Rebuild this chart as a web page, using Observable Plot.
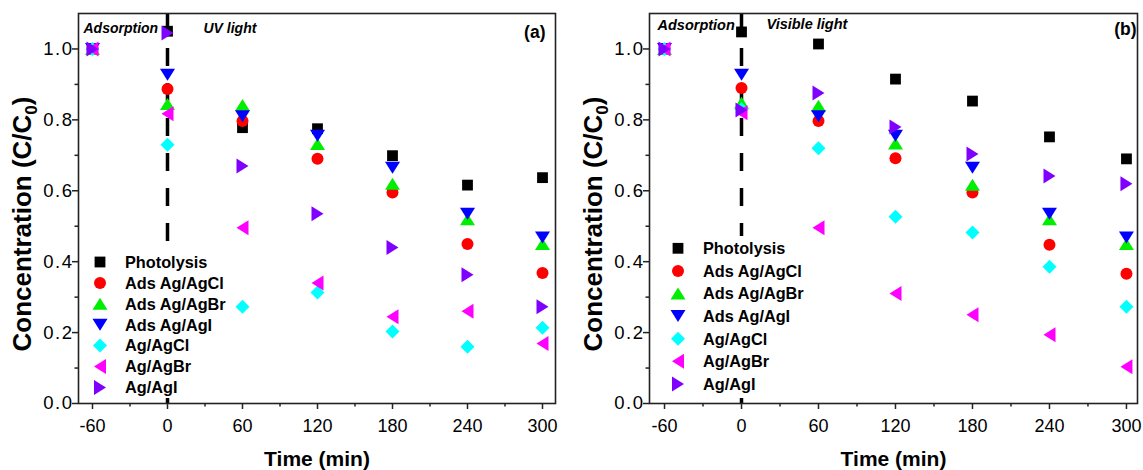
<!DOCTYPE html>
<html>
<head>
<meta charset="utf-8">
<script src="https://cdn.jsdelivr.net/npm/d3@7"></script>
<script src="https://cdn.jsdelivr.net/npm/@observablehq/plot@0.6"></script>
<style>
  body { margin: 0; background: #fff; }
  #wrap { display: flex; width: 1143px; height: 470px; }
  #wrap g[aria-label="y-axis tick label"] text { letter-spacing: 1.5px; }
</style>
</head>
<body>
<div id="wrap"></div>
<script>
// ---------------- data ----------------
const times = [-60, 0, 60, 120, 180, 240, 300];
const seriesNames = ["Photolysis", "Ads Ag/AgCl", "Ads Ag/AgBr", "Ads Ag/AgI", "Ag/AgCl", "Ag/AgBr", "Ag/AgI"];

// (a) UV light
const photolysisUV = [1.0, 1.05, 0.778, 0.775, 0.699, 0.616, 0.637];
const adsAgClUV   = [1.0, 0.887, 0.797, 0.69, 0.595, 0.45, 0.368];
const adsAgBrUV   = [1.0, 0.845, 0.842, 0.732, 0.62, 0.52, 0.45];
const adsAgIUV    = [1.0, 0.927, 0.81, 0.755, 0.665, 0.535, 0.468];
const agAgClUV    = [1.0, 0.73, 0.273, 0.313, 0.203, 0.16, 0.214];
const agAgBrUV    = [1.0, 0.817, 0.496, 0.34, 0.245, 0.26, 0.169];
const agAgIUV     = [1.0, 1.045, 0.67, 0.535, 0.44, 0.363, 0.273];

// (b) Visible light
const photolysisVis = [1.0, 1.048, 1.014, 0.915, 0.853, 0.752, 0.69];
const adsAgClVis    = [1.0, 0.89, 0.797, 0.692, 0.595, 0.448, 0.366];
const adsAgBrVis    = [1.0, 0.848, 0.84, 0.733, 0.617, 0.52, 0.45];
const adsAgIVis     = [1.0, 0.927, 0.81, 0.755, 0.665, 0.535, 0.468];
const agAgClVis     = [1.0, 0.83, 0.72, 0.527, 0.482, 0.386, 0.273];
const agAgBrVis     = [1.0, 0.82, 0.496, 0.31, 0.25, 0.194, 0.104];
const agAgIVis      = [1.0, 0.828, 0.876, 0.78, 0.704, 0.642, 0.62];

const yTicks = [0, 0.2, 0.4, 0.6, 0.8, 1.0];
const yMinorTicks = [0.1, 0.3, 0.5, 0.7, 0.9];
const xTicks = [-60, 0, 60, 120, 180, 240, 300];
const xMinorTicks = [-30, 30, 90, 150, 210, 270];
const lightOnTime = 0;
const phaseLabel = "Adsorption";
const lightLabels = ["UV light", "Visible light"];
const panelLabels = ["(a)", "(b)"];
const xTitle = "Time (min)";

// ---------------- styles ----------------
const seriesColors = ["#000000", "#ff0000", "#00ee00", "#0000ff", "#00ffff", "#ff00ff", "#8000ff"];

function polySymbol(pts) {
  return {
    draw(ctx, size) {
      const s = Math.sqrt(size / (Math.PI * 36));
      ctx.moveTo(pts[0][0] * s, pts[0][1] * s);
      for (let i = 1; i < pts.length; i++) ctx.lineTo(pts[i][0] * s, pts[i][1] * s);
      ctx.closePath();
    }
  };
}
const symCircle = {
  draw(ctx, size) {
    const r = Math.sqrt(size / Math.PI);
    ctx.moveTo(r, 0);
    ctx.arc(0, 0, r, 0, 2 * Math.PI);
  }
};
const seriesSymbols = [
  polySymbol([[-5.4, -5.4], [5.4, -5.4], [5.4, 5.4], [-5.4, 5.4]]),
  symCircle,
  polySymbol([[0, -6], [7.5, 6], [-7.5, 6]]),
  polySymbol([[0, 6], [7.5, -6], [-7.5, -6]]),
  polySymbol([[0, -7], [7, 0], [0, 7], [-7, 0]]),
  polySymbol([[-6, 0], [6, -7.5], [6, 7.5]]),
  polySymbol([[6, 0], [-6, -7.5], [-6, 7.5]])
];

const FONT = "'Liberation Sans', Arial, Helvetica, sans-serif";

function panel(cfg) {
  const dots = cfg.series.map((vals, i) =>
    Plot.dot(times.map((t, j) => ({t, c: vals[j]})), {
      x: "t", y: "c", r: 6, symbol: seriesSymbols[i], fill: seriesColors[i], stroke: "none"
    })
  );
  const svg = Plot.plot({
    width: cfg.width, height: 470,
    marginLeft: cfg.ml, marginRight: cfg.mr, marginTop: 13, marginBottom: 67,
    style: {fontFamily: FONT, color: "#000", background: "#fff", overflow: "visible"},
    x: {domain: cfg.xDomain},
    y: {domain: [0, 1.1]},
    marks: [
      Plot.axisY({ticks: yMinorTicks, tickSize: 3.5, fill: "none", label: null, strokeWidth: 1.5, stroke: "#222"}),
      Plot.axisY({ticks: yTicks, tickSize: 6, tickPadding: -1, tickFormat: d3.format(".1f"), fontSize: 18.5, label: null, strokeWidth: 1.5, stroke: "#222"}),
      Plot.axisX({ticks: xMinorTicks, tickSize: 3.5, fill: "none", label: null, strokeWidth: 1.5, stroke: "#222"}),
      Plot.axisX({ticks: xTicks, tickSize: 6, tickPadding: 9.5, tickFormat: d => String(d), fontSize: 18, label: null, strokeWidth: 1.5, stroke: "#222"}),
      Plot.ruleX([lightOnTime], {stroke: "#000", strokeWidth: 3.5, strokeDasharray: "18,17"}),
      ...dots,
      Plot.frame({stroke: "#222", strokeWidth: 1.6}),
      Plot.text([phaseLabel], {text: d => d, frameAnchor: "top-left", dx: cfg.adsDx, dy: cfg.adsDy, lineAnchor: "middle", textAnchor: "start",
        fontSize: cfg.noteSize, fontWeight: "bold", fontStyle: "italic"}),
      Plot.text([{t: lightOnTime, label: cfg.lightLabel}], {x: "t", text: "label", frameAnchor: "top", dx: cfg.lightDx, dy: cfg.lightDy,
        lineAnchor: "middle", textAnchor: "start", fontSize: cfg.noteSize, fontWeight: "bold", fontStyle: "italic"}),
      Plot.text([cfg.panelLabel], {text: d => d, frameAnchor: "top-right", dx: cfg.labDx, dy: cfg.labDy, lineAnchor: "middle", textAnchor: "end",
        fontSize: 17.5, fontWeight: "bold"}),
      Plot.text([xTitle], {text: d => d, frameAnchor: "bottom", dy: 56, lineAnchor: "middle", fontSize: 21, fontWeight: "bold"})
    ]
  });

  const s = d3.select(svg);
  // y-axis title with subscript
  const yt = s.append("text")
    .attr("transform", `translate(${cfg.yTitleX},224) rotate(-90)`)
    .attr("text-anchor", "middle")
    .attr("font-size", 26).attr("font-weight", "bold").attr("font-family", FONT).attr("fill", "#000");
  yt.append("tspan").text("Concentration (C/C");
  yt.append("tspan").attr("font-size", 17).attr("dy", 6).text("0");
  yt.append("tspan").attr("dy", -6).text(")");

  // legend
  const lg = s.append("g").attr("text-anchor", "start");
  lg.append("rect").attr("x", cfg.leg.x).attr("y", cfg.leg.y).attr("width", cfg.leg.w).attr("height", cfg.leg.h).attr("fill", "#fff");
  seriesNames.forEach((name, i) => {
    const y = cfg.leg.y0 + i * cfg.leg.step;
    const p = d3.path();
    seriesSymbols[i].draw(p, Math.PI * 36);
    lg.append("path").attr("d", p.toString()).attr("transform", `translate(${cfg.leg.symX},${y})`).attr("fill", seriesColors[i]);
    lg.append("text").attr("x", cfg.leg.textX).attr("y", y).attr("dy", "0.36em").attr("text-anchor", "start")
      .attr("font-size", 16.3).attr("font-weight", "bold").attr("font-family", FONT).attr("fill", "#000").text(name);
  });
  return svg;
}

const wrap = document.getElementById("wrap");
wrap.append(panel({
  width: 570, ml: 78, mr: 15, xDomain: [-71.2, 310.4],
  series: [photolysisUV, adsAgClUV, adsAgBrUV, adsAgIUV, agAgClUV, agAgBrUV, agAgIUV],
  lightLabel: lightLabels[0], panelLabel: panelLabels[0],
  adsDx: 5, adsDy: 15, lightDx: 36, lightDy: 15, noteSize: 14, labDx: -10, labDy: 19,
  yTitleX: 31,
  leg: {x: 88, y: 249, w: 144, h: 148, symX: 100, textX: 125, y0: 262, step: 20.9}
}));
wrap.append(panel({
  width: 573, ml: 79, mr: 6, xDomain: [-71.7, 308.6],
  series: [photolysisVis, adsAgClVis, adsAgBrVis, adsAgIVis, agAgClVis, agAgBrVis, agAgIVis],
  lightLabel: lightLabels[1], panelLabel: panelLabels[1],
  adsDx: 8, adsDy: 12, lightDx: 25, lightDy: 11, noteSize: 14.5, labDx: -1, labDy: 16,
  yTitleX: 32,
  leg: {x: 96, y: 236, w: 150, h: 161, symX: 108, textX: 133, y0: 248.3, step: 22.6}
}));
</script>
</body>
</html>
